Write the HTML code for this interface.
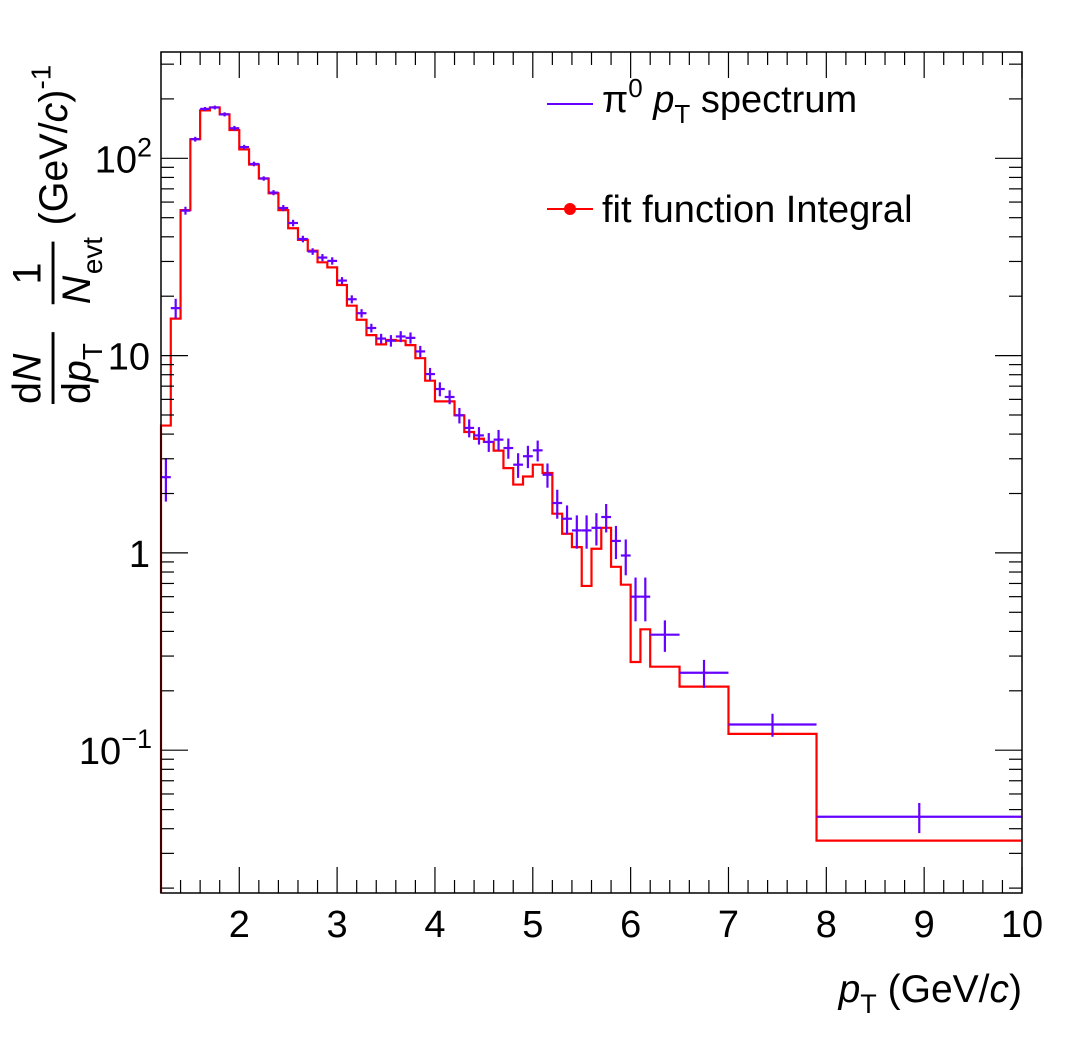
<!DOCTYPE html>
<html><head><meta charset="utf-8"><style>
html,body{margin:0;padding:0;background:#fff;}
svg{display:block;font-family:"Liberation Sans",sans-serif;}
</style></head><body>
<svg id="chart" width="1076" height="1052" viewBox="0 0 1076 1052" xmlns="http://www.w3.org/2000/svg">
<rect x="0" y="0" width="1076" height="1052" fill="#fff"/>
<g id="marks"></g>
<g id="axes"></g>
<rect x="161" y="52" width="861" height="841" fill="none" stroke="#000" stroke-width="1.5"/>
<g>
  <line x1="547" x2="593" y1="104" y2="104" stroke="#6600ff" stroke-width="2"/>
  <text x="602" y="112" font-size="38">π<tspan dy="-15" font-size="26">0</tspan><tspan dy="15"> </tspan><tspan font-style="italic">p</tspan><tspan dy="11" font-size="26">T</tspan><tspan dy="-11"> spectrum</tspan></text>
  <line x1="547" x2="593" y1="209" y2="209" stroke="#ff0000" stroke-width="2"/>
  <circle cx="570" cy="209" r="6" fill="#ff0000"/>
  <text x="602" y="222" font-size="38">fit function Integral</text>
</g>
<text x="1022" y="1002" font-size="39" text-anchor="end"><tspan font-style="italic">p</tspan><tspan dy="11" font-size="27">T</tspan><tspan dy="-11"> (GeV/</tspan><tspan font-style="italic">c</tspan>)</text>
<g transform="translate(60,404) rotate(-90) scale(1.16)">
  <text x="0" y="-17" font-size="34">d<tspan font-style="italic">N</tspan></text>
  <line x1="0" x2="62" y1="-6" y2="-6" stroke="#000" stroke-width="2.5"/>
  <text x="0" y="26" font-size="34">d<tspan font-style="italic">p</tspan><tspan dy="10" font-size="24">T</tspan></text>
  <text x="103" y="-17" font-size="34">1</text>
  <line x1="86" x2="140" y1="-6" y2="-6" stroke="#000" stroke-width="2.5"/>
  <text x="86" y="26" font-size="34" font-style="italic">N</text>
  <text x="112" y="36" font-size="24">evt</text>
  <text x="154" y="6" font-size="34">(GeV/<tspan font-style="italic">c</tspan>)<tspan dy="-14" font-size="24">-1</tspan></text>
</g>
</svg>
<script>
const binEdges = [1.2,1.3,1.4,1.5,1.6,1.7,1.8,1.9,2.0,2.1,2.2,2.3,2.4,2.5,2.6,2.7,2.8,2.9,3.0,3.1,3.2,3.3,3.4,3.5,3.6,3.7,3.8,3.9,4.0,4.1,4.2,4.3,4.4,4.5,4.6,4.7,4.8,4.9,5.0,5.1,5.2,5.3,5.4,5.5,5.6,5.7,5.8,5.9,6.0,6.1,6.2,6.5,7.0,7.9,10.0];
const spectrumValues = [2.42,17.4,54.3,125,178,181,167,142,114,93.6,79,67,56,47,39,33.7,31.4,30.2,24,19.3,16.4,13.8,12.2,11.9,12.5,12.3,10.5,8.06,6.77,6.17,4.98,4.3,3.94,3.65,3.75,3.4,2.8,3.09,3.31,2.49,1.79,1.49,1.30,1.30,1.34,1.52,1.15,0.97,0.60,0.60,0.385,0.247,0.135,0.046];
const spectrumErrors = [0.6,2.0,2.5,3.5,4,4,4,4,3,2.5,2,2,2,1.8,1.5,1.3,1.3,1.3,1.0,0.9,0.8,0.7,0.7,0.8,0.8,0.8,0.7,0.6,0.55,0.5,0.45,0.45,0.4,0.4,0.45,0.4,0.4,0.4,0.4,0.35,0.3,0.25,0.25,0.25,0.25,0.25,0.22,0.2,0.15,0.15,0.07,0.04,0.018,0.008];
const fitValues = [4.42,15.4,54.6,125,175,181,167,139,111,93,79,66.5,54.6,44.2,38.6,34,29.7,28,22.8,17.9,15.2,12.7,11.4,12,11.9,11.3,9.7,7.46,5.86,5.86,4.98,4.1,3.79,3.65,3.3,2.69,2.22,2.44,2.8,2.54,1.58,1.25,1.07,0.68,1.05,1.34,0.85,0.69,0.28,0.41,0.265,0.21,0.121,0.0348];
const xTicks = [2,3,4,5,6,7,8,9,10];
const xTickLabels = ["2","3","4","5","6","7","8","9","10"];
const yDecades = [-1,0,1,2];

const L=161,R=1022,T=52,B=893;
const XMIN=1.2,XMAX=10;
const Y0=158.3, DEC=197.3;
const LOGMAX=2+(Y0-T)/DEC, LOGMIN=2-(B-Y0)/DEC;
function sx(v){return L+(v-XMIN)/(XMAX-XMIN)*(R-L);}
function sy(v){return Y0+(2-Math.log10(v))*DEC;}
function cy(y){return Math.max(T,Math.min(B,y));}
const NS="http://www.w3.org/2000/svg";
function mk(tag,attrs,parent){const e=document.createElementNS(NS,tag);for(const k in attrs)e.setAttribute(k,attrs[k]);parent.appendChild(e);return e;}
const marks=document.getElementById('marks'), axes=document.getElementById('axes');

for(let v=1.2; v<=10.0001; v+=0.2){
  const major=Math.abs(v-Math.round(v))<1e-6;
  const len=major?26:13, x=sx(v);
  const t1=mk('line',{x1:x,x2:x,y1:B,y2:B-len,stroke:'#000','stroke-width':1.2},axes);
  
  
  const t2=mk('line',{x1:x,x2:x,y1:T,y2:T+len,stroke:'#000','stroke-width':1.2},axes);
  
  
}
xTicks.forEach((v,i)=>{
  const t=mk('text',{x:sx(v),y:937,'font-size':38,'text-anchor':'middle'},axes);
  t.textContent=xTickLabels[i];
  
  
});
for(let d=-2; d<=2; d++){
  for(let m=1;m<=9;m++){
    const v=m*Math.pow(10,d), lg=Math.log10(v);
    if(lg<LOGMIN||lg>LOGMAX) continue;
    const y=sy(v), len=m===1?27:13;
    const a=mk('line',{x1:L,x2:L+len,y1:y,y2:y,stroke:'#000','stroke-width':1.2},axes);
    
    
    const b=mk('line',{x1:R,x2:R-len,y1:y,y2:y,stroke:'#000','stroke-width':1.2},axes);
    
    
  }
}
yDecades.forEach(d=>{
  const y=sy(Math.pow(10,d))+14;
  const t=mk('text',{x:150,y:y,'font-size':38,'text-anchor':'end'},axes);
  
  
  if(d===0){t.textContent='1';}
  else if(d===1){t.textContent='10';}
  else {
    t.textContent='10';
    const s=document.createElementNS(NS,'tspan');
    s.setAttribute('dy','-16');s.setAttribute('font-size','27');
    s.textContent=d===2?'2':'\u22121';
    t.appendChild(s);
    t.setAttribute('x',152);
  }
});

let dpath='M'+sx(binEdges[0])+','+B;
fitValues.forEach((v,i)=>{
  const y=cy(sy(v));
  dpath+=' L'+sx(binEdges[i])+','+y+' L'+sx(binEdges[i+1])+','+y;
});
const fit=mk('path',{d:dpath,fill:'none',stroke:'#ff0000','stroke-width':2.2},marks);



spectrumValues.forEach((v,i)=>{
  const g=mk('g',{},marks);
  
  
  const x0=sx(binEdges[i]), x1=sx(binEdges[i+1]), xc=(x0+x1)/2, y=sy(v);
  const e=spectrumErrors[i];
  mk('line',{x1:x0,x2:x1,y1:y,y2:y,stroke:'#6600ff','stroke-width':2.2},g);
  mk('line',{x1:xc,x2:xc,y1:cy(sy(v+e)),y2:cy(sy(Math.max(v-e,1e-6))),stroke:'#6600ff','stroke-width':2.2},g);
});
</script>
</body></html>
